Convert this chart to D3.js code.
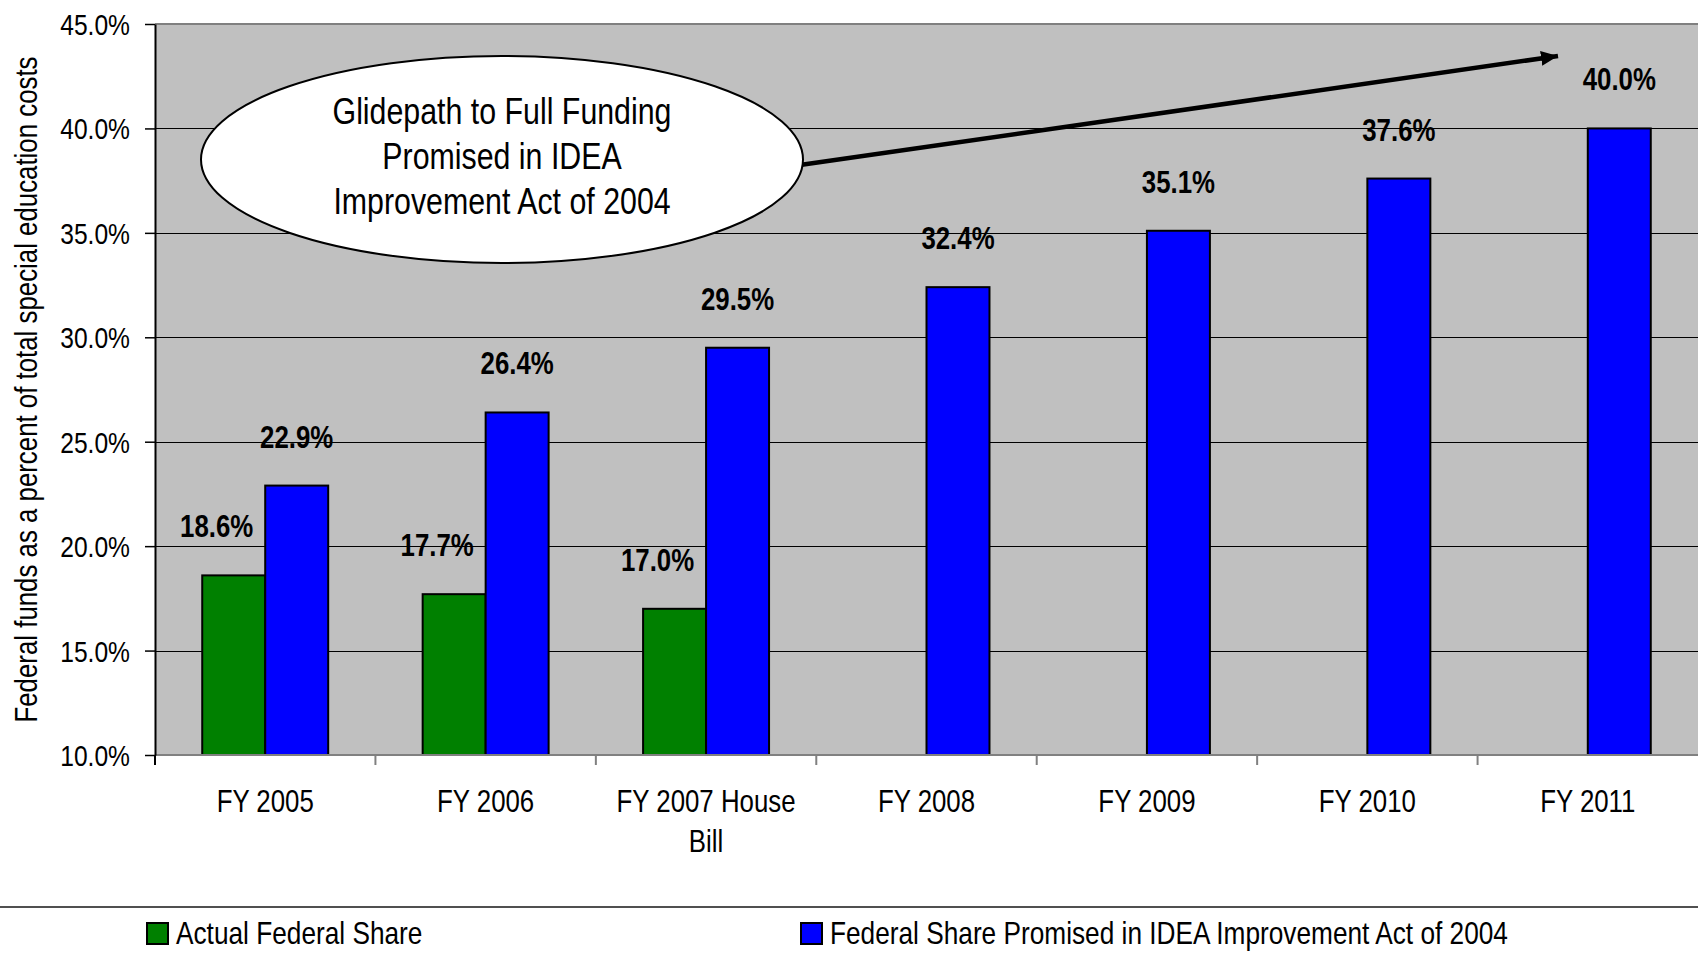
<!DOCTYPE html>
<html><head><meta charset="utf-8">
<script src="https://cdn.jsdelivr.net/npm/d3@7"></script>
<style>
html,body{margin:0;padding:0;background:#fff;}
svg{display:block;}
text{font-family:"Liberation Sans",Arial,sans-serif;}
</style></head><body>
<svg id="chart" width="1698" height="953"></svg>
<script>
// ---- data ----
const categories = ["FY 2005", "FY 2006", "FY 2007 House Bill", "FY 2008", "FY 2009", "FY 2010", "FY 2011"];
const actualShare = [18.6, 17.7, 17.0, null, null, null, null];
const promisedShare = [22.9, 26.4, 29.5, 32.4, 35.1, 37.6, 40.0];
const seriesNames = ["Actual Federal Share", "Federal Share Promised in IDEA Improvement Act of 2004"];
const seriesKeys = ["actual", "promised"];
const yTicks = [10, 15, 20, 25, 30, 35, 40, 45];
const yTitle = "Federal funds as a percent of total special education costs";
const annotationLines = ["Glidepath to Full Funding", "Promised in IDEA", "Improvement Act of 2004"];

// ---- layout ----
const W = 1698, H = 953;
const plot = {left: 155, right: 1698, top: 24, bottom: 755};
const colors = {actual: "#008000", promised: "#0000FF"};
const FS = 30;
const NARROW = 0.82; // emulate a condensed face by horizontal scaling

// turn a positioned text into a horizontally condensed one
function condense(sel, extra) {
  sel.each(function() {
    const t = d3.select(this);
    const tx = +t.attr("x") || 0, ty = +t.attr("y") || 0;
    t.attr("x", null).attr("y", null)
     .attr("transform", `translate(${tx},${ty})${extra || ""} scale(${NARROW},1)`);
  });
}

const svg = d3.select("#chart");
svg.append("rect").attr("width", W).attr("height", H).attr("fill", "#fff");

const x = d3.scaleBand().domain(categories).range([plot.left, plot.right]).paddingInner(0).paddingOuter(0);
const xs = d3.scaleBand().domain(seriesKeys).range([0, x.bandwidth()]).paddingInner(0).paddingOuter(0.75);
const y = d3.scaleLinear().domain([10, 45]).range([plot.bottom, plot.top]);

// background
svg.append("rect").attr("x", plot.left).attr("y", plot.top)
  .attr("width", plot.right - plot.left).attr("height", plot.bottom - plot.top)
  .attr("fill", "#C0C0C0");

// gridlines
svg.append("g").selectAll("line").data(yTicks.filter(t => t > 10 && t < 45)).join("line")
  .attr("x1", plot.left).attr("x2", plot.right)
  .attr("y1", d => Math.round(y(d)) + 0.5).attr("y2", d => Math.round(y(d)) + 0.5)
  .attr("stroke", "#000").attr("stroke-width", 1);

// top border
svg.append("line").attr("x1", plot.left).attr("x2", plot.right)
  .attr("y1", y(45)).attr("y2", y(45)).attr("stroke", "#808080").attr("stroke-width", 2);

// bars
const rows = categories.map((c, i) => ({cat: c, actual: actualShare[i], promised: promisedShare[i]}));
const barData = [];
rows.forEach(r => seriesKeys.forEach(k => { if (r[k] != null) barData.push({cat: r.cat, key: k, value: r[k]}); }));

svg.append("g").selectAll("rect").data(barData).join("rect")
  .attr("x", d => x(d.cat) + xs(d.key))
  .attr("y", d => y(d.value))
  .attr("width", xs.bandwidth())
  .attr("height", d => y(10) - y(d.value))
  .attr("fill", d => colors[d.key])
  .attr("stroke", "#000").attr("stroke-width", 2);

// bottom axis line
svg.append("line").attr("x1", plot.left).attr("x2", plot.right)
  .attr("y1", plot.bottom).attr("y2", plot.bottom).attr("stroke", "#808080").attr("stroke-width", 2);

// category boundary ticks
svg.append("g").selectAll("line").data(categories).join("line")
  .attr("x1", d => x(d)).attr("x2", d => x(d))
  .attr("y1", plot.bottom).attr("y2", plot.bottom + 10)
  .attr("stroke", (d, i) => i === 0 ? "#000" : "#808080").attr("stroke-width", 2);

// y axis
const yAxis = d3.axisLeft(y).tickValues(yTicks).tickSize(10).tickSizeOuter(0).tickPadding(15)
  .tickFormat(d => d.toFixed(1) + "%");
const gy = svg.append("g").attr("transform", `translate(${plot.left},0)`).call(yAxis);
gy.select(".domain").attr("stroke", "#000").attr("stroke-width", 2);
gy.selectAll(".tick line").attr("stroke", "#000").attr("stroke-width", 1.5);
gy.attr("font-family", null).attr("font-size", null);
gy.selectAll(".tick text").attr("font-size", FS).attr("fill", "#000").attr("dy", "0.35em").call(condense);

// x axis labels
const xAxis = d3.axisBottom(x).tickSize(0).tickSizeOuter(0);
const gx = svg.append("g").attr("transform", `translate(0,${plot.bottom})`).call(xAxis);
gx.attr("font-family", null).attr("font-size", null);
gx.select(".domain").remove();
gx.selectAll(".tick text").attr("font-size", 31.5).attr("fill", "#000")
  .attr("x", 0).attr("y", 57).attr("dy", 0)
  .each(function(d) {
    const t = d3.select(this);
    const words = d.split(" ");
    t.text(null);
    let line = [];
    let tspan = t.append("tspan").attr("x", 0).attr("dy", 0);
    for (const w of words) {
      line.push(w);
      tspan.text(line.join(" "));
      if (tspan.node().getComputedTextLength() * NARROW > 195 && line.length > 1) {
        line.pop();
        tspan.text(line.join(" "));
        line = [w];
        tspan = t.append("tspan").attr("x", 0).attr("dy", 40).text(w);
      }
    }
  })
  .call(condense);

// y title
svg.append("text").attr("font-size", 31.5).attr("fill", "#000")
  .attr("text-anchor", "middle")
  .attr("x", 37).attr("y", (plot.top + plot.bottom) / 2)
  .text(yTitle)
  .call(condense, " rotate(-90)");

// data labels
svg.append("g").selectAll("text").data(barData).join("text")
  .attr("font-size", 31.5).attr("font-weight", "bold").attr("fill", "#000")
  .attr("text-anchor", "middle")
  .attr("x", d => x(d.cat) + xs(d.key) + xs.bandwidth() / 2 + (d.key === "actual" ? -17 : 0))
  .attr("y", d => y(d.value) - 38)
  .text(d => d.value.toFixed(1) + "%")
  .call(condense);

// annotation arrow
const defs = svg.append("defs");
defs.append("marker").attr("id", "arrowhead").attr("markerUnits", "userSpaceOnUse")
  .attr("viewBox", "0 0 16 14").attr("refX", 16).attr("refY", 7)
  .attr("markerWidth", 17).attr("markerHeight", 15).attr("orient", "auto")
  .append("path").attr("d", "M0,0 L16,7 L0,14 Z").attr("fill", "#000");
svg.append("line").attr("x1", 800).attr("y1", 165).attr("x2", 1558).attr("y2", 56)
  .attr("stroke", "#000").attr("stroke-width", 4.5).attr("marker-end", "url(#arrowhead)");

// annotation ellipse
svg.append("ellipse").attr("cx", 502).attr("cy", 159.5).attr("rx", 301).attr("ry", 103.5)
  .attr("fill", "#fff").attr("stroke", "#000").attr("stroke-width", 2);
svg.append("g").selectAll("text").data(annotationLines).join("text")
  .attr("font-size", 37).attr("fill", "#000")
  .attr("text-anchor", "middle").attr("x", 502).attr("y", (d, i) => 123.5 + i * 45)
  .text(d => d)
  .call(condense);

// legend separator
svg.append("line").attr("x1", 0).attr("x2", W).attr("y1", 907).attr("y2", 907)
  .attr("stroke", "#505050").attr("stroke-width", 2);

// legend
const legendX = [147, 801];
const lg = svg.append("g").selectAll("g").data(seriesKeys).join("g")
  .attr("transform", (d, i) => `translate(${legendX[i]},923)`);
lg.append("rect").attr("width", 21).attr("height", 21).attr("fill", d => colors[d])
  .attr("stroke", "#000").attr("stroke-width", 2);
lg.append("text").attr("font-size", 32).attr("fill", "#000")
  .attr("x", 29).attr("y", 21).text((d, i) => seriesNames[i])
  .call(condense);
</script>
</body></html>
